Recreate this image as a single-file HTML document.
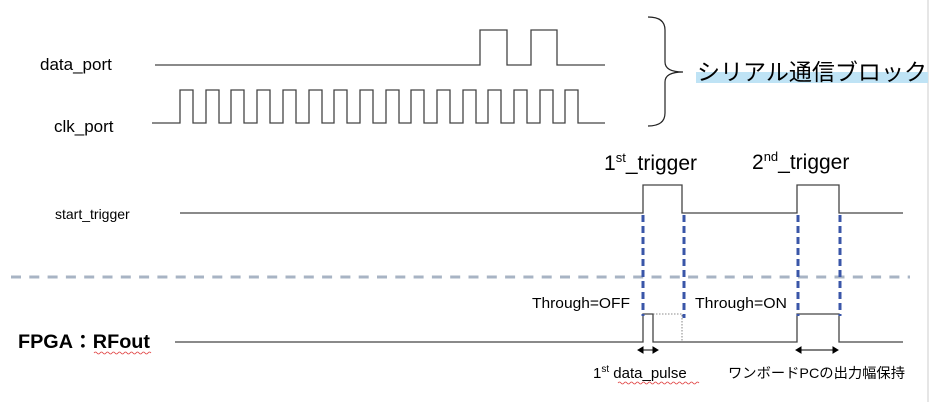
<!DOCTYPE html>
<html><head><meta charset="utf-8"><style>
html,body{margin:0;padding:0;background:#fff;}
svg{display:block;}
text{font-family:"Liberation Sans","Noto Sans CJK JP",sans-serif;fill:#000;}
</style></head><body>
<svg width="930" height="402" viewBox="0 0 930 402" xmlns="http://www.w3.org/2000/svg">
<line x1="928" y1="0" x2="928" y2="402" stroke="#e6e6e6" stroke-width="2"/>
<g fill="none" stroke="#444" stroke-width="1.3">
<polyline points="155,65 480,65 480,30 507,30 507,65 531,65 531,30 557,30 557,65 605,65"/>
<polyline points="152,123 180,123 180,90 193,90 193,123 206,123 206,90 219,90 219,123 231,123 231,90 244,90 244,123 257,123 257,90 270,90 270,123 283,123 283,90 296,90 296,123 309,123 309,90 322,90 322,123 334,123 334,90 347,90 347,123 360,123 360,90 373,90 373,123 386,123 386,90 399,90 399,123 411,123 411,90 424,90 424,123 437,123 437,90 450,90 450,123 463,123 463,90 476,90 476,123 488,123 488,90 501,90 501,123 514,123 514,90 527,90 527,123 540,123 540,90 553,90 553,123 565,123 565,90 578,90 578,123 605,123"/>
<polyline points="180,213 643,213 643,185 682,185 682,213 797,213 797,185 839,185 839,213 903,213"/>
<polyline points="175,342 643,342 643,314 653,314 653,342 797,342 797,314 839,314 839,342 903,342"/>
<path d="M648,17 Q665,17 665,30 L665,62 Q665,72 683,72 Q665,72 665,82 L665,113 Q665,126 648,126" stroke="#222" stroke-width="1.2"/>
</g>
<g stroke="#666" stroke-width="0.8" stroke-dasharray="1.5,1.5" fill="none">
<polyline points="653,314 682,314 682,342"/>
</g>
<line x1="11" y1="277" x2="910" y2="277" stroke="#a8b4c4" stroke-width="3" stroke-dasharray="10,8.3"/>
<g stroke="#3a56a8" stroke-width="3" stroke-dasharray="7,4">
<line x1="643" y1="215" x2="643" y2="316"/>
<line x1="684" y1="215" x2="684" y2="318"/>
<line x1="798" y1="215" x2="798" y2="316"/>
<line x1="840" y1="215" x2="840" y2="316"/>
</g>
<g stroke="#000" stroke-width="1" fill="#000">
<line x1="639" y1="350" x2="657" y2="350"/>
<path d="M638,350 l5,-3 v6z M658,350 l-5,-3 v6z"/>
<line x1="797" y1="350" x2="837" y2="350"/>
<path d="M796,350 l5,-3 v6z M838,350 l-5,-3 v6z"/>
</g>
<rect x="696" y="72" width="232" height="11" fill="#bfe3f5"/>
<text x="40" y="70" font-size="17">data_port</text>
<text x="54" y="132" font-size="17">clk_port</text>
<text x="55" y="219" font-size="14">start_trigger</text>
<text x="18" y="348" font-size="19" font-weight="bold" textLength="132" lengthAdjust="spacingAndGlyphs">FPGA：RFout</text>
<path d="M94,353 q1.5,-2 3,0 t3,0 t3,0 t3,0 t3,0 t3,0 t3,0 t3,0 t3,0 t3,0 t3,0 t3,0 t3,0 t3,0 t3,0 t3,0 t3,0 t3,0 t3,0" stroke="#e04040" stroke-width="0.8" fill="none"/>
<text x="697" y="80" font-size="23" textLength="230" lengthAdjust="spacingAndGlyphs">シリアル通信ブロック</text>
<text x="604" y="170" font-size="21">1<tspan font-size="13" dy="-8">st</tspan><tspan dy="8">_trigger</tspan></text>
<text x="752" y="169" font-size="21">2<tspan font-size="13" dy="-8">nd</tspan><tspan dy="8">_trigger</tspan></text>
<text x="532" y="308" font-size="15" textLength="98" lengthAdjust="spacingAndGlyphs">Through=OFF</text>
<text x="695" y="308" font-size="15" textLength="92" lengthAdjust="spacingAndGlyphs">Through=ON</text>
<text x="593" y="378" font-size="15">1<tspan font-size="10" dy="-6">st</tspan><tspan dy="6"> data_pulse</tspan></text>
<path d="M618,383 q1.5,-2 3,0 t3,0 t3,0 t3,0 t3,0 t3,0 t3,0 t3,0 t3,0 t3,0 t3,0 t3,0 t3,0 t3,0 t3,0 t3,0 t3,0 t3,0 t3,0 t3,0 t3,0 t3,0 t3,0 t3,0 t3,0 t3,0 t3,0" stroke="#e04040" stroke-width="0.8" fill="none"/>
<text x="728" y="378" font-size="14" textLength="177" lengthAdjust="spacingAndGlyphs">ワンボードPCの出力幅保持</text>
</svg>
</body></html>
